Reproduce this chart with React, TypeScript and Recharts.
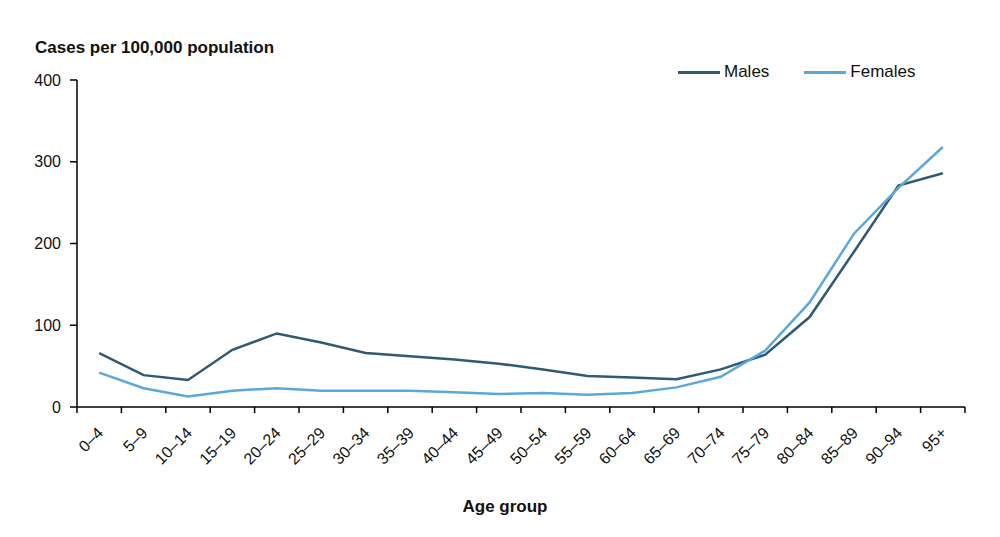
import React from 'react';
import { LineChart, Line, XAxis, YAxis, Legend } from 'recharts';

const ageGroups = ['0–4', '5–9', '10–14', '15–19', '20–24', '25–29', '30–34', '35–39', '40–44', '45–49', '50–54', '55–59', '60–64', '65–69', '70–74', '75–79', '80–84', '85–89', '90–94', '95+'];
const males = [66, 39, 33, 70, 90, 79, 66, 62, 58, 53, 46, 38, 36, 34, 46, 64, 110, 190, 271, 286];
const females = [42, 23, 13, 20, 23, 20, 20, 20, 18, 16, 17, 15, 17, 24, 37, 69, 128, 212, 268, 318];
const yTicks = [0, 100, 200, 300, 400];
const seriesOrder = ['Males', 'Females'];

const MALE_COLOR = '#2f5a72';
const FEMALE_COLOR = '#5ba8d8';
const FONT = '"Liberation Sans", Arial, sans-serif';

const data = ageGroups.map((age, i) => ({ age, Males: males[i], Females: females[i] }));

function XTick(props: any) {
  const { x, y, payload, index, visibleTicksCount, width } = props;
  const half = typeof payload?.offset === 'number' && payload.offset > 0 ? payload.offset : width / visibleTicksCount / 2;
  const ty = y + 27;
  const tx = x + 5;
  return (
    <g>
      <line x1={x - half} x2={x - half} y1={y} y2={y + 6} stroke="#000" strokeWidth={1.5} />
      {index === visibleTicksCount - 1 && (
        <line x1={x + half} x2={x + half} y1={y} y2={y + 6} stroke="#000" strokeWidth={1.5} />
      )}
      <text x={tx} y={ty} textAnchor="end" fontSize={16} fontFamily={FONT} fill="#111" transform={`rotate(-45, ${tx}, ${ty})`}>
        {payload.value}
      </text>
    </g>
  );
}

function LegendContent(props: any) {
  const payload = [...(props.payload || [])].sort(
    (a: any, b: any) => seriesOrder.indexOf(a.value) - seriesOrder.indexOf(b.value)
  );
  return (
    <div style={{ display: 'flex', alignItems: 'center', fontFamily: FONT, fontSize: 17, color: '#111' }}>
      {payload.map((p: any, i: number) => (
        <div key={i} style={{ display: 'flex', alignItems: 'center', marginRight: i === 0 ? 35 : 0 }}>
          <div style={{ width: 42, height: 3, background: p.color, marginRight: 4 }} />
          <span>{p.value}</span>
        </div>
      ))}
    </div>
  );
}

export default function App() {
  return (
    <div style={{ position: 'absolute', left: 0, top: 0, width: 1000, height: 537, background: '#fff' }}>
      <LineChart width={1000} height={537} data={data} margin={{ top: 80, right: 35, bottom: 70, left: 0 }}>
        <XAxis
          dataKey="age"
          scale="band"
          height={60}
          tickLine={false}
          tickSize={0}
          tickMargin={0}
          interval={0}
          axisLine={{ stroke: '#000', strokeWidth: 1.5 }}
          tick={<XTick />}
          label={{ value: 'Age group', position: 'insideBottom', offset: -45, dx: -16, style: { fontFamily: FONT, fontSize: 17, fontWeight: 'bold', fill: '#111' } }}
        />
        <YAxis
          width={77}
          domain={[0, 400]}
          ticks={yTicks}
          interval={0}
          tickSize={7}
          tickMargin={9}
          axisLine={{ stroke: '#000', strokeWidth: 1.5 }}
          tickLine={{ stroke: '#000', strokeWidth: 1.5 }}
          tick={{ fontSize: 16, fontFamily: FONT, fill: '#111' }}
        />
        <Legend
          layout="horizontal"
          verticalAlign="middle"
          align="center"
          content={<LegendContent />}
          wrapperStyle={{ top: 62, left: 678, width: 300 }}
        />
        <Line type="linear" dataKey="Males" stroke={MALE_COLOR} strokeWidth={2.5} dot={false} isAnimationActive={false} />
        <Line type="linear" dataKey="Females" stroke={FEMALE_COLOR} strokeWidth={2.5} dot={false} isAnimationActive={false} />
      </LineChart>
      <svg width={1000} height={60} style={{ position: 'absolute', left: 0, top: 0, pointerEvents: 'none' }}>
        <text x={35} y={53} fontFamily={FONT} fontSize={17} fontWeight="bold" fill="#111">Cases per 100,000 population</text>
      </svg>
    </div>
  );
}
